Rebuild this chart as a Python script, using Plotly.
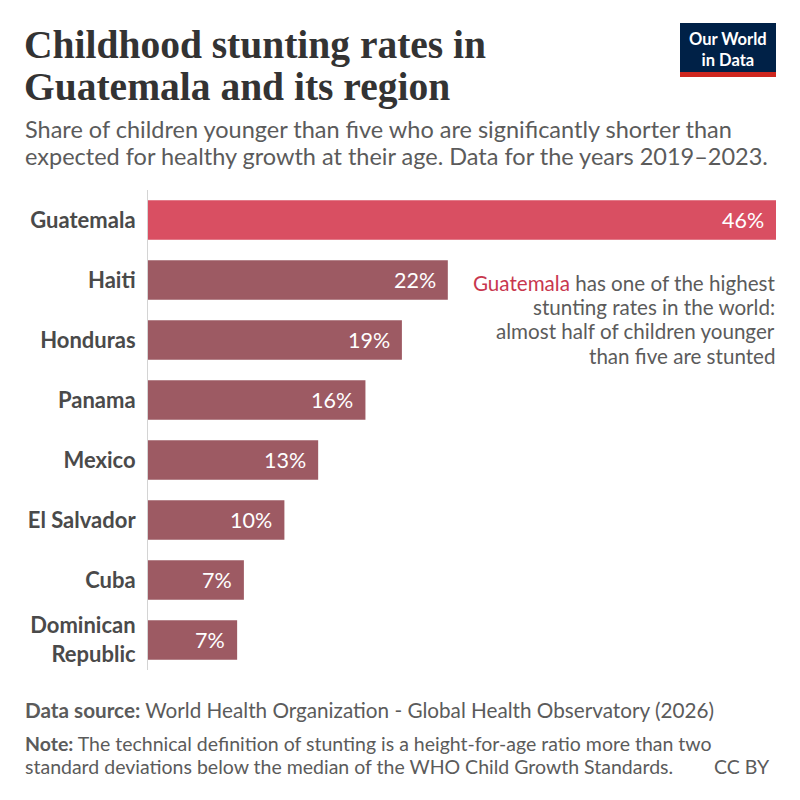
import plotly.graph_objects as go

countries = ["Guatemala", "Haiti", "Honduras", "Panama", "Mexico",
             "El Salvador", "Cuba", "Dominican Republic"]
tick_labels = ["Guatemala", "Haiti", "Honduras", "Panama", "Mexico",
               "El Salvador", "Cuba", "Dominican<br>Republic"]
values = [46.5, 22.2, 18.8, 16.1, 12.6, 10.1, 7.1, 6.6]
highlight = "Guatemala"

W, H = 800, 800
OFF = 8  # page body margin
L, R, T, B = 140, 32, 182, 138
PW, PH = W - L - R, H - T - B


def px(x):
    return (x - OFF - L) / PW


def py(y):
    return (H - B - (y - OFF)) / PH


HIGH = "#d94f62"
BASE = "#9d5a63"
colors = [HIGH if c == highlight else BASE for c in countries]

fig = go.Figure(go.Bar(
    x=values, y=countries, orientation="h",
    marker=dict(color=colors, line=dict(width=0)),
    width=0.66, hoverinfo="skip",
))

ann = []
for c, v in zip(countries, values):
    ann.append(dict(x=v, y=c, xref="x", yref="y", text=f"{round(v)}%",
                    showarrow=False, xanchor="right", xshift=-10,
                    font=dict(family="Lato", size=21.5, color="white")))


def txt(x, y, text, size, color, family="Lato", xanchor="left", weight=None):
    f = dict(family=family, size=size, color=color)
    if weight:
        f["weight"] = weight
    ann.append(dict(x=px(x), y=py(y), xref="paper", yref="paper", text=text,
                    showarrow=False, xanchor=xanchor, yanchor="middle",
                    font=f, align=xanchor if xanchor != "center" else "center"))


# Title
txt(22, 45, "Childhood stunting rates in", 39.5, "#333333", family="Liberation Serif", weight=700)
txt(22, 87, "Guatemala and its region", 39.5, "#333333", family="Liberation Serif", weight=700)
# Subtitle
txt(23, 129, "Share of children younger than five who are significantly shorter than", 23.5, "#5b5b5b")
txt(23, 156, "expected for healthy growth at their age. Data for the years 2019–2023.", 23.5, "#5b5b5b")

# Side annotation
side = [
    "<span style='color:#c8374e'>Guatemala</span> has one of the highest",
    "stunting rates in the world:",
    "almost half of children younger",
    "than five are stunted",
]
for i, line in enumerate(side):
    txt(777, 283 + 24.2 * i, line, 20.6, "#5b5b5b", xanchor="right")

# Footer
txt(23, 710, "<b>Data source:</b> World Health Organization - Global Health Observatory (2026)", 20.7, "#5b5b5b")
txt(23, 743, "<b>Note:</b> The technical definition of stunting is a height-for-age ratio more than two", 19.5, "#5b5b5b")
txt(23, 766, "standard deviations below the median of the WHO Child Growth Standards.", 19.5, "#5b5b5b")
txt(772, 766, "CC BY", 19.5, "#5b5b5b", xanchor="right")

# Logo
shapes = [
    dict(type="rect", xref="paper", yref="paper", x0=px(680), x1=px(776),
         y0=py(72), y1=py(23), fillcolor="#002147", line=dict(width=0), layer="above"),
    dict(type="rect", xref="paper", yref="paper", x0=px(680), x1=px(776),
         y0=py(77), y1=py(72), fillcolor="#ce261e", line=dict(width=0), layer="above"),
]
txt(728, 49, "Our World<br>in Data", 16.5, "white", xanchor="center", weight=700)

fig.update_layout(
    width=W, height=H,
    margin=dict(l=L, r=R, t=T, b=B, autoexpand=False),
    paper_bgcolor="white", plot_bgcolor="white",
    showlegend=False,
    annotations=ann, shapes=shapes,
    xaxis=dict(range=[0, 46.5], visible=False, fixedrange=True),
    yaxis=dict(categoryorder="array", categoryarray=countries,
               autorange="reversed", tickmode="array", tickvals=countries,
               ticktext=tick_labels, ticks="", showgrid=False,
               showline=True, linecolor="#d4d4d4", linewidth=1,
               ticklabelstandoff=7,
               tickfont=dict(family="Lato", size=22, color="#4a4a4a", weight=700)),
)

fig.write_html("out.html")
